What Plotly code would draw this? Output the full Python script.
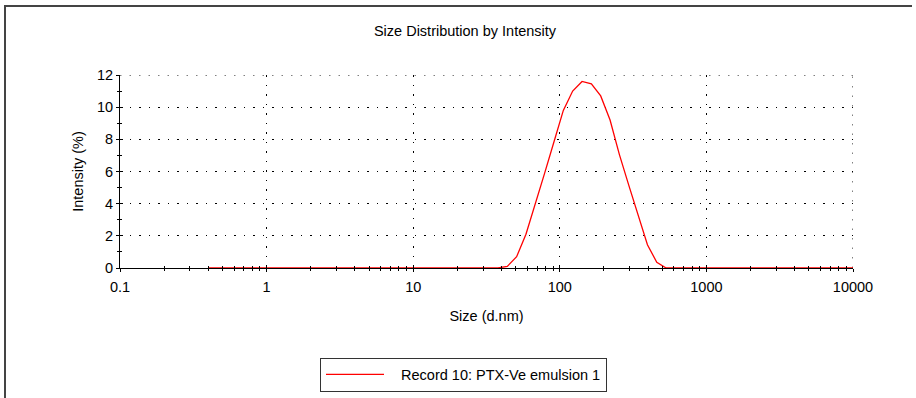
import plotly.graph_objects as go

# Size classes (d.nm)
sizes = [0.4, 0.4632, 0.5365, 0.6213, 0.7195, 0.8332, 0.9649, 1.117, 1.294, 1.499,
         1.736, 2.01, 2.328, 2.696, 3.122, 3.615, 4.187, 4.849, 5.615, 6.503,
         7.531, 8.721, 10.1, 11.7, 13.54, 15.69, 18.17, 21.04, 24.36, 28.21,
         32.67, 37.84, 43.82, 50.75, 58.77, 68.06, 78.82, 91.28, 105.7, 122.4,
         141.8, 164.2, 190.1, 220.2, 255.0, 295.3, 342.0, 396.1, 458.7, 531.2,
         615.1, 712.4, 825.0, 955.4, 1106, 1281, 1484, 1718, 1990, 2305,
         2669, 3091, 3580, 4145, 4801, 5560, 6439, 7456, 8635, 10000]
# Intensity (%)
intensity = [0, 0, 0, 0, 0, 0, 0, 0, 0, 0,
             0, 0, 0, 0, 0, 0, 0, 0, 0, 0,
             0, 0, 0, 0, 0, 0, 0, 0, 0, 0,
             0, 0, 0.1, 0.7, 2.1, 3.95, 5.9, 7.85, 9.8, 11.0,
             11.6, 11.45, 10.7, 9.2, 7.05, 5.15, 3.25, 1.45, 0.35, 0,
             0, 0, 0, 0, 0, 0, 0, 0, 0, 0,
             0, 0, 0, 0, 0, 0, 0, 0, 0, 0]

series_name = "Record 10: PTX-Ve emulsion 1"
x_major = [0.1, 1, 10, 100, 1000, 10000]
x_major_text = ["0.1", "1", "10", "100", "1000", "10000"]
x_minor = [m * d for d in [0.1, 1, 10, 100, 1000] for m in range(2, 10)]
y_major = [0, 2, 4, 6, 8, 10, 12]
y_minor = [1, 3, 5, 7, 9, 11]
x_range = [0.1, 10000]
y_range = [0, 12]

W, H = 916, 398
L, R, T, B = 120, 63, 75, 130
pw, ph = W - L - R, H - T - B

def px(xp):
    return (xp - L) / pw

def py(yp):
    return (H - B - yp) / ph

FONT = "Liberation Sans, Arial, sans-serif"
FS = 14.5
GRID_DASH = "1.5px,8px"

fig = go.Figure()
fig.add_trace(go.Scatter(x=sizes, y=intensity, mode="lines",
                         name="\u00a0\u00a0\u00a0" + series_name,
                         line=dict(color="#ff0000", width=1.3), hoverinfo="x+y"))
# helper trace for overlay axes (ticks drawn inward)
fig.add_trace(go.Scatter(x=sizes, y=intensity, mode="lines", xaxis="x2", yaxis="y2",
                         line=dict(color="rgba(0,0,0,0)", width=0), showlegend=False,
                         hoverinfo="skip"))

axis_common = dict(linecolor="black", linewidth=1, zeroline=False, automargin=False)

fig.update_layout(
    width=W, height=H,
    margin=dict(l=L, r=R, t=T, b=B, autoexpand=False),
    paper_bgcolor="white", plot_bgcolor="white",
    font=dict(family=FONT, size=FS, color="black"),
    title=dict(text="Size Distribution by Intensity", x=465 / W, xanchor="center",
               y=1 - 31 / H, yanchor="middle", font=dict(size=FS)),
    xaxis=dict(type="log", range=[-1, 4], showline=True, layer="below traces",
               tickmode="array", tickvals=x_major, ticktext=x_major_text,
               ticks="outside", ticklen=3, tickcolor="black", tickwidth=1,
               ticklabelstandoff=3,
               showgrid=True, gridcolor="black", gridwidth=1, griddash=GRID_DASH,
               minor=dict(tickmode="array", tickvals=x_minor, ticks="outside", ticklen=2,
                          tickcolor="black", showgrid=False),
               title=dict(text="Size (d.nm)", standoff=16, font=dict(size=FS)),
               **axis_common),
    yaxis=dict(range=y_range, showline=True, layer="below traces",
               tickmode="array", tickvals=y_major,
               ticks="outside", ticklen=3, tickcolor="black", tickwidth=1,
               showgrid=True, gridcolor="black", gridwidth=1, griddash=GRID_DASH,
               minor=dict(tickmode="array", tickvals=y_minor, ticks="outside", ticklen=2,
                          tickcolor="black", showgrid=False),
               title=dict(text="Intensity (%)", standoff=9, font=dict(size=FS)),
               **axis_common),
    xaxis2=dict(type="log", range=[-1, 4], overlaying="x", anchor="y", side="bottom",
                showline=False, showgrid=False, zeroline=False, showticklabels=False,
                tickmode="array", tickvals=x_major, ticks="inside", ticklen=3,
                tickcolor="black",
                minor=dict(tickmode="array", tickvals=x_minor, ticks="inside", ticklen=2,
                           tickcolor="black", showgrid=False)),
    yaxis2=dict(range=y_range, overlaying="y", anchor="x", side="left",
                showline=False, showgrid=False, zeroline=False, showticklabels=False,
                tickmode="array", tickvals=y_major, ticks="inside", ticklen=3,
                tickcolor="black",
                minor=dict(tickmode="array", tickvals=y_minor, ticks="inside", ticklen=2,
                           tickcolor="black", showgrid=False)),
    showlegend=True,
    legend=dict(xref="container", yref="container", x=463.5 / W, y=1 - 374.5 / H,
                xanchor="center", yanchor="middle",
                orientation="h", bordercolor="#333333", borderwidth=1,
                bgcolor="white", itemwidth=58, font=dict(size=FS),
                itemclick=False, itemdoubleclick=False),
    shapes=[
        # dotted gridlines at the upper / right range edges
        dict(type="line", xref="paper", yref="y", x0=0, x1=1, y0=y_range[1], y1=y_range[1],
             line=dict(color="black", width=1, dash=GRID_DASH), layer="below"),
        dict(type="line", xref="x", yref="paper", x0=x_range[1], x1=x_range[1], y0=0, y1=1,
             line=dict(color="black", width=1, dash=GRID_DASH), layer="below"),
        # outer frame
        dict(type="line", xref="paper", yref="paper", x0=px(5), x1=px(5),
             y0=py(5), y1=py(H + 5), line=dict(color="#444444", width=2)),
        dict(type="line", xref="paper", yref="paper", x0=px(4), x1=px(912),
             y0=py(6), y1=py(6), line=dict(color="#444444", width=2)),
    ],
)

fig.write_html("out.html", config={"displayModeBar": False},
               post_script="document.body.style.margin='0';document.body.style.padding='0';")
